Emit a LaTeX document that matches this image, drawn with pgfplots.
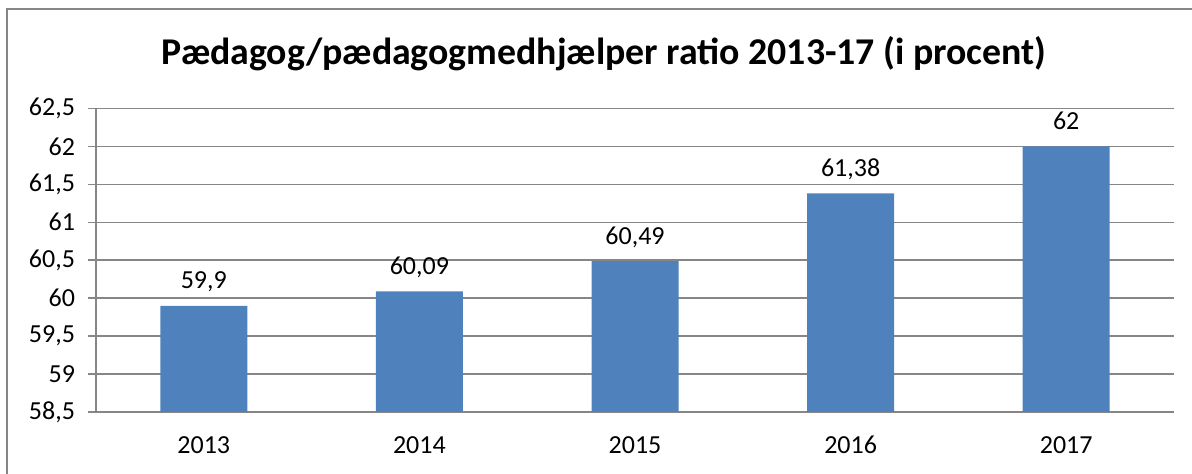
\documentclass[border=0pt]{standalone}
\usepackage{pgfplots}
\pgfplotsset{compat=1.18}
\usepackage{fontspec}
\setmainfont{Carlito}
\definecolor{barblue}{HTML}{4F81BD}
\definecolor{gridgray}{HTML}{868686}
\begin{document}
\begin{tikzpicture}[x=1pt,y=1pt]
\useasboundingbox (0,0) rectangle (596,237);
\draw[gridgray, line width=0.75pt] (3.5,-10) rectangle (610,232.5);
\node[font=\bfseries\fontsize{18.9}{22}\selectfont, anchor=base] at (302,204.5) {Pædagog/pædagogmedhjælper ratio 2013-17 (i procent)};
\begin{axis}[at={(48pt,31pt)}, anchor=south west, scale only axis,
  width=539pt, height=151.75pt,
  xmin=-0.5, xmax=4.5, ymin=58.5, ymax=62.5,
  ytick={58.5,59,59.5,60,60.5,61,61.5,62,62.5},
  xtick={0,1,2,3,4},
  xticklabels={2013,2014,2015,2016,2017},
  extra x ticks={-0.5,0.5,1.5,2.5,3.5,4.5},
  extra x tick labels={},
  extra x tick style={major tick length=3.5pt, tick style={gridgray, line width=0.75pt}, grid=none},
  x tick style={draw=none},
  axis x line*=bottom, axis y line*=left,
  axis line style={gridgray, line width=0.75pt},
  tick align=outside,
  major tick length=4pt,
  y tick style={gridgray, line width=0.75pt},
  ymajorgrids, major grid style={gridgray, line width=0.75pt},
  /pgf/number format/assume math mode=true,
  /pgf/number format/use comma,
  /pgf/number format/1000 sep={},
  ticklabel style={font=\fontsize{13}{15}\selectfont, text=black},
  yticklabel style={xshift=-3pt},
  xticklabel style={anchor=base, yshift=-17pt},
  ybar, bar width=43.5pt,
  nodes near coords,
  every node near coord/.append style={font=\fontsize{13}{15}\selectfont, text=black, anchor=base, yshift=8.5pt},
  clip=false,
]
\addplot[fill=barblue, draw=none] coordinates {(0,59.9) (1,60.09) (2,60.49) (3,61.38) (4,62)};
\end{axis}
\end{tikzpicture}
\end{document}
